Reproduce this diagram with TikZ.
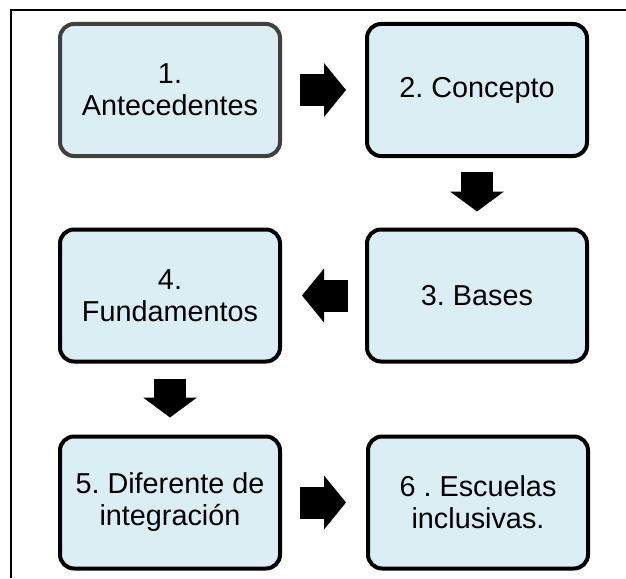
\documentclass[tikz,border=0pt]{standalone}
\usepackage{fontspec}
\setmainfont{Liberation Sans}
\usetikzlibrary{arrows.meta}
\frenchspacing
\definecolor{cajaazul}{RGB}{219,238,244}
\definecolor{bordegris}{RGB}{64,64,64}
\tikzset{
  caja/.style={draw=black, line width=4pt, fill=cajaazul, rounded corners=14pt,
    minimum width=220pt, minimum height=132pt, align=center, inner sep=2pt,
    font=\fontsize{28.8}{32}\selectfont},
  flecha/.style={line width=32pt, -{Triangle[length=22pt,width=54pt,line width=0pt]}},
  flechav/.style={line width=32pt, -{Triangle[length=20pt,width=54pt,line width=0pt]}}
}
\begin{document}
\begin{tikzpicture}[x=1pt,y=-1pt]
  \useasboundingbox (0,0) rectangle (626,578);
  \draw[line width=1.3pt] (626,10) -- (11,10) -- (11,578);

  \node[caja, draw=bordegris] (c1) at (170,90) {1.\\Antecedentes};
  \node[caja] (c2) at (477,90) {2. Concepto};
  \node[caja] (c3) at (477,295.5) {3. Bases};
  \node[caja] (c4) at (170,295.5) {4.\\Fundamentos};
  \node[caja] (c5) at (170,502.5) {5. Diferente de\\integraci\'on};
  \node[caja] (c6) at (478,502.5) {6 . Escuelas\\inclusivas.};

  % flechas entre pasos
  \draw[flecha, shorten <=18pt, shorten >=19pt] (c1) -- (c2);
  \draw[flechav, shorten <=14pt, shorten >=16pt] (c2) -- (c3);
  \draw[flecha, shorten <=17pt, shorten >=20pt] (c3) -- (c4);
  \draw[flechav, shorten <=15pt, shorten >=17pt] (c4) -- (c5);
  \draw[flecha, shorten <=18pt, shorten >=20pt] (c5) -- (c6);
\end{tikzpicture}
\end{document}
